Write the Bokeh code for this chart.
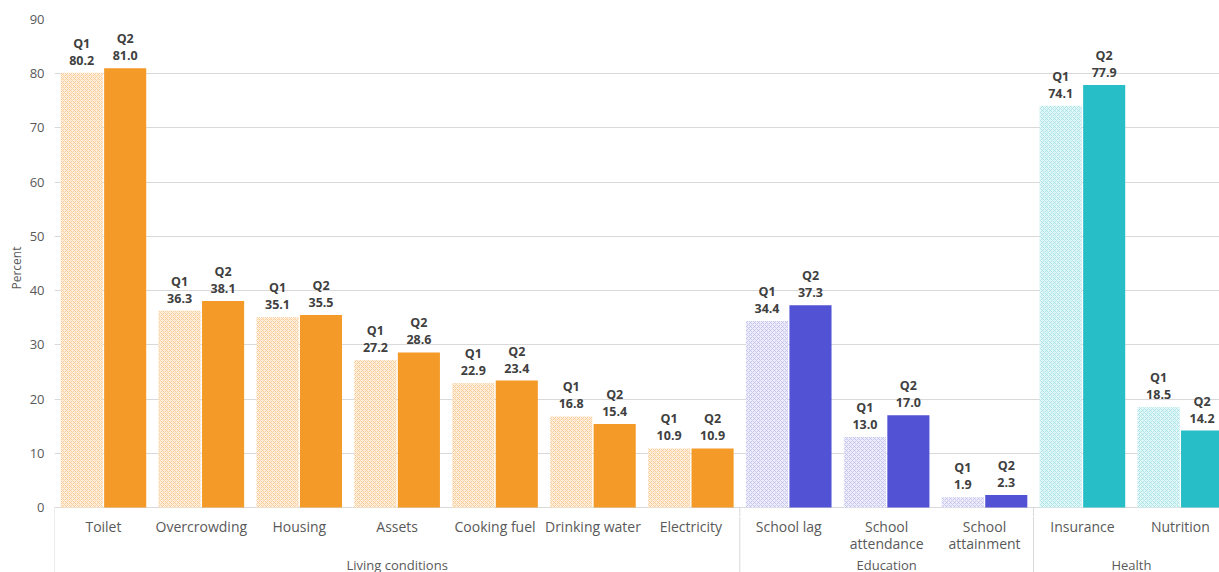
from bokeh.plotting import figure
from bokeh.layouts import column
from bokeh.models import ColumnDataSource, Range1d, FixedTicker
from bokeh.core.properties import value
from bokeh.embed import file_html
from bokeh.resources import INLINE

categories = ["Toilet", "Overcrowding", "Housing", "Assets", "Cooking fuel", "Drinking water",
              "Electricity", "School lag", "School\nattendance", "School\nattainment",
              "Insurance", "Nutrition"]
groups = ["Living conditions"] * 7 + ["Education"] * 3 + ["Health"] * 2
q1 = [80.2, 36.3, 35.1, 27.2, 22.9, 16.8, 10.9, 34.4, 13.0, 1.9, 74.1, 18.5]
q2 = [81.0, 38.1, 35.5, 28.6, 23.4, 15.4, 10.9, 37.3, 17.0, 2.3, 77.9, 14.2]
y_ticks = [0, 10, 20, 30, 40, 50, 60, 70, 80, 90]

FONT = "Open Sans"
solid = {"Living conditions": "#F39A29", "Education": "#5252D4", "Health": "#27BEC8"}
light = {"Living conditions": "#FEEEDC", "Education": "#EEEEFA", "Health": "#E3F6F7"}
hatchc = {"Living conditions": "#F8C68C", "Education": "#BDBDEE", "Health": "#A0E2E6"}

n = len(categories)
centers = [i + 0.5 for i in range(n)]
off = 0.222
bw = 0.43
X_END = 11.9       # the last category is cut by the right edge, as in the source
Y_LOW = -1.66      # a little room below 0 so the "0" tick label is not cut

src = ColumnDataSource(dict(
    xc=centers,
    x1=[c - off for c in centers],
    x2=[c + off for c in centers],
    q1=q1, q2=q2,
    l1=["Q1\n%.1f" % v for v in q1],
    l2=["Q2\n%.1f" % v for v in q2],
    cat=categories,
    c2=[solid[g] for g in groups],
    c1=[light[g] for g in groups],
    h1=[hatchc[g] for g in groups],
))

uniq = []
for g in groups:
    if g not in uniq:
        uniq.append(g)
starts = [groups.index(g) for g in uniq]
ends = [len(groups) - groups[::-1].index(g) for g in uniq]
bounds = starts + [n]

xr = Range1d(0, X_END)
p = figure(width=1219, height=516, output_backend="svg", toolbar_location=None,
           x_range=xr, y_range=Range1d(Y_LOW, 90),
           x_axis_location=None, min_border_left=54, min_border_right=0,
           min_border_top=19, min_border_bottom=0)
p.outline_line_color = None
p.xgrid.grid_line_color = None
p.ygrid.ticker = FixedTicker(ticks=y_ticks)
p.ygrid.grid_line_color = "#D9D9D9"
p.yaxis.ticker = FixedTicker(ticks=y_ticks)
p.yaxis.axis_line_color = None
p.yaxis.major_tick_line_color = None
p.yaxis.minor_tick_line_color = None
p.yaxis.major_tick_out = 0
p.yaxis.major_tick_in = 0
p.yaxis.major_label_standoff = 10
p.yaxis.major_label_text_font = FONT
p.yaxis.major_label_text_font_size = "13px"
p.yaxis.major_label_text_color = "#595959"
p.yaxis.axis_label = "Percent"
p.yaxis.axis_label_standoff = 2
p.yaxis.axis_label_text_font = FONT
p.yaxis.axis_label_text_font_size = "12px"
p.yaxis.axis_label_text_font_style = "normal"
p.yaxis.axis_label_text_color = "#595959"

p.vbar(x="x1", top="q1", width=bw, bottom=0, source=src, fill_color="c1",
       hatch_pattern="x", hatch_color="h1", hatch_scale=4, hatch_weight=0.8, line_color=None)
p.vbar(x="x2", top="q2", width=bw, bottom=0, source=src, fill_color="c2", line_color=None)

lab = dict(text_font=value(FONT), text_font_size="12.5px", text_font_style="bold",
           text_color="#404040", text_align="center", text_baseline="bottom",
           text_line_height=1.0, y_offset=-4)
p.text(x="x1", y="q1", text="l1", source=src, **lab)
p.text(x="x2", y="q2", text="l2", source=src, **lab)
p.segment(x0=bounds, y0=[0] * len(bounds), x1=bounds, y1=[Y_LOW] * len(bounds),
          line_color="#D9D9D9", line_width=1)

# lower panel: category labels, group separators and group labels (pixel units below baseline)
b = figure(width=1219, height=56, output_backend="svg", toolbar_location=None,
           x_range=xr, y_range=Range1d(-65, -9),
           x_axis_location=None, y_axis_location=None,
           min_border_left=54, min_border_right=0, min_border_top=0, min_border_bottom=0)
b.outline_line_color = None
b.xgrid.grid_line_color = None
b.ygrid.grid_line_color = None

b.text(x="xc", y=-9.5, text="cat", source=src, text_font=value(FONT), text_font_size="14px",
       text_color="#595959", text_align="center", text_baseline="top", text_line_height=0.9)
b.segment(x0=bounds, y0=[-9] * len(bounds), x1=bounds, y1=[-65] * len(bounds),
          line_color="#D9D9D9", line_width=1)
b.text(x=[(s + e) / 2 for s, e in zip(starts, ends)], y=[-57] * len(uniq), text=uniq,
       text_font=value(FONT), text_font_size="13px", text_color="#595959",
       text_align="center", text_baseline="middle")

layout = column(p, b, spacing=0)
open("out.html", "w").write(file_html(layout, INLINE))
